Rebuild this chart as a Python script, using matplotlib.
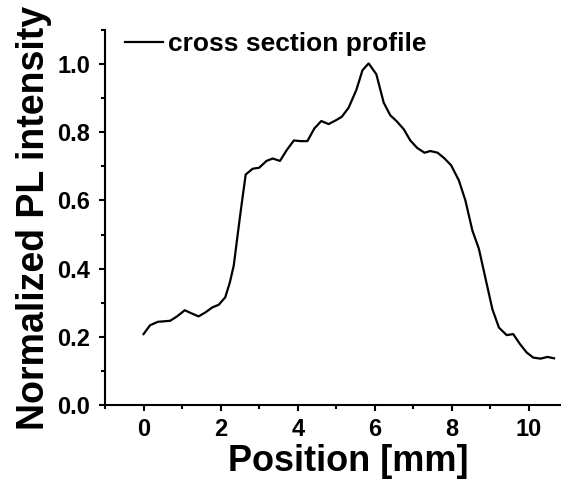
import matplotlib
matplotlib.use("Agg")
import matplotlib.pyplot as plt
from matplotlib.ticker import MultipleLocator

plt.rcParams['font.family'] = ['Liberation Sans', 'DejaVu Sans']
plt.rcParams['font.weight'] = 'bold'

position_mm = [0.0, 0.17, 0.37, 0.69, 0.87, 1.07, 1.24, 1.43, 1.61, 1.78, 1.95, 2.12,
               2.24, 2.34, 2.45, 2.54, 2.65, 2.83, 3.0, 3.19, 3.35, 3.54, 3.71, 3.9,
               4.08, 4.25, 4.43, 4.61, 4.8, 4.97, 5.14, 5.32, 5.52, 5.68, 5.84, 6.04,
               6.23, 6.4, 6.57, 6.75, 6.92, 7.1, 7.29, 7.44, 7.63, 7.81, 7.98, 8.18,
               8.35, 8.53, 8.7, 8.87, 9.05, 9.22, 9.42, 9.59, 9.77, 9.94, 10.11, 10.3,
               10.48, 10.65]
intensity = [0.208, 0.234, 0.244, 0.247, 0.26, 0.278, 0.269, 0.26, 0.272, 0.286, 0.294, 0.316,
             0.36, 0.409, 0.507, 0.585, 0.676, 0.693, 0.696, 0.716, 0.723, 0.716, 0.747, 0.776,
             0.774, 0.774, 0.811, 0.833, 0.824, 0.834, 0.845, 0.872, 0.924, 0.982, 1.002, 0.970,
             0.887, 0.85, 0.832, 0.809, 0.776, 0.754, 0.74, 0.745, 0.74, 0.723, 0.703, 0.659,
             0.6, 0.512, 0.458, 0.372, 0.281, 0.227, 0.205, 0.208, 0.178, 0.154, 0.139, 0.136,
             0.141, 0.137]
series_label = "cross section profile"
x_label = "Position [mm]"
y_label = "Normalized PL intensity"

fig = plt.figure(figsize=(5.61, 4.80), dpi=100)
ax = fig.add_axes([105/561, 75/480, 1 - 105/561, (405-30)/480])

ax.plot(position_mm, intensity, color='black', lw=1.6, label=series_label)
ax.set_xlim(-1.0, 10.83)
ax.set_ylim(0.0, 1.1)

ax.xaxis.set_major_locator(MultipleLocator(2))
ax.xaxis.set_minor_locator(MultipleLocator(1))
ax.yaxis.set_major_locator(MultipleLocator(0.2))
ax.yaxis.set_minor_locator(MultipleLocator(0.1))
ax.yaxis.set_major_formatter(plt.FuncFormatter(lambda v, p: f"{v:.1f}"))

for s in ['top', 'right']:
    ax.spines[s].set_visible(False)
for s in ['left', 'bottom']:
    ax.spines[s].set_linewidth(1.5)

ax.tick_params(which='major', direction='out', length=4.5, width=1.5, labelsize=17, pad=6)
ax.tick_params(axis='x', which='major', pad=4.5)
ax.tick_params(which='minor', direction='out', length=2.8, width=1.5)
for lab in ax.get_xticklabels() + ax.get_yticklabels():
    lab.set_fontweight('bold')

ax.set_xlabel(x_label, fontsize=26, fontweight='bold')
ax.xaxis.set_label_coords(0.534, -0.104, transform=ax.transAxes)
ax.xaxis.label.set_va('top')
ax.set_ylabel(y_label, fontsize=27, fontweight='bold', labelpad=4)

leg = ax.legend(loc='upper left', bbox_to_anchor=(0.02, 1.022), frameon=False,
                handlelength=1.45, handletextpad=0.2, borderaxespad=0,
                prop={'size': 19, 'weight': 'bold'})

fig.savefig("out.png", dpi=100)
